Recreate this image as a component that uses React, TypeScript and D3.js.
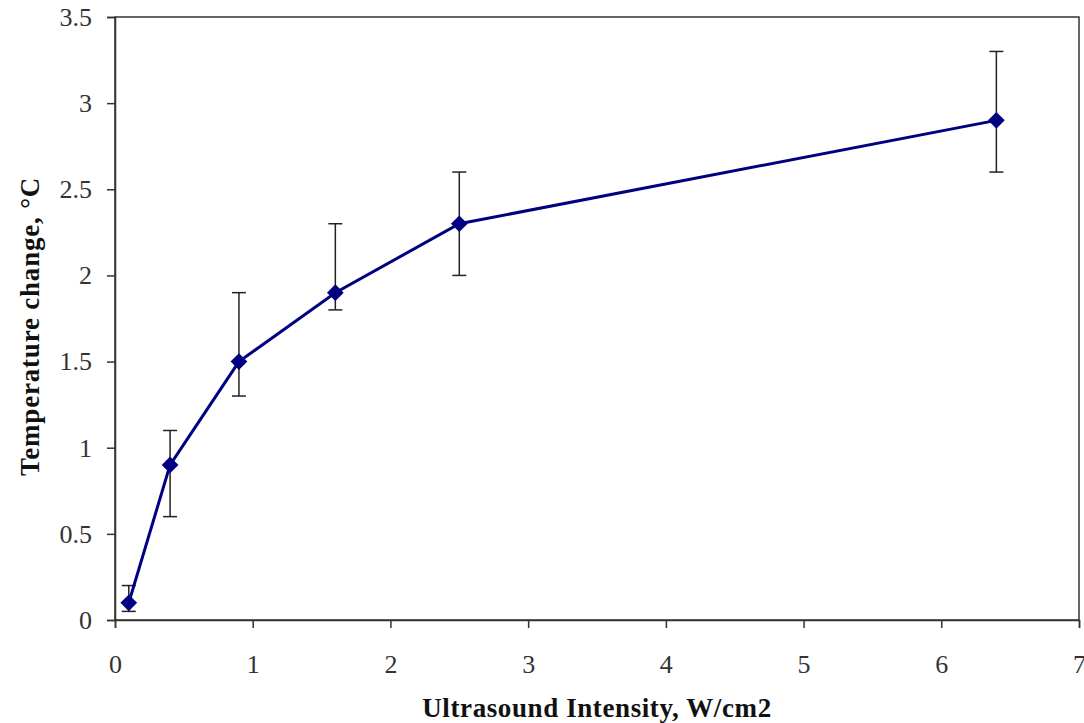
import React, { useEffect, useRef } from 'react';
import * as d3 from 'd3';

const intensity = [0.1, 0.4, 0.9, 1.6, 2.5, 6.4];
const tempChange = [0.1, 0.9, 1.5, 1.9, 2.3, 2.9];
const errUpper = [0.2, 1.1, 1.9, 2.3, 2.6, 3.3];
const errLower = [0.05, 0.6, 1.3, 1.8, 2.0, 2.6];
const xTicks = [0, 1, 2, 3, 4, 5, 6, 7];
const yTicks = [0, 0.5, 1, 1.5, 2, 2.5, 3, 3.5];

const App = () => {
    const svgRef = useRef<SVGSVGElement>(null);

    useEffect(() => {
        const svg = d3.select(svgRef.current);
        svg.selectAll('*').remove();

        const left = 115, right = 1079, top = 17, bottom = 620;
        const x = d3.scaleLinear().domain([0, 7]).range([left, right]);
        const y = d3.scaleLinear().domain([0, 3.5]).range([bottom, top]);

        const data = intensity.map((v, i) => ({
            x: v, y: tempChange[i], hi: errUpper[i], lo: errLower[i]
        }));

        // plot frame
        svg.append('rect')
            .attr('x', left).attr('y', top)
            .attr('width', right - left).attr('height', bottom - top)
            .attr('fill', 'white').attr('stroke', '#333').attr('stroke-width', 1.5);

        // axes
        const xAxis = svg.append('g')
            .attr('transform', `translate(0,${bottom})`)
            .call(d3.axisBottom(x).tickValues(xTicks).tickSize(8).tickPadding(27)
                .tickFormat(d3.format('d')));
        const yAxis = svg.append('g')
            .attr('transform', `translate(${left},0)`)
            .call(d3.axisLeft(y).tickValues(yTicks).tickSize(8).tickPadding(15)
                .tickFormat(d => String(d)));
        [xAxis, yAxis].forEach(g => {
            g.select('.domain').attr('stroke', '#333').attr('stroke-width', 1.5);
            g.selectAll('.tick line').attr('stroke', '#333').attr('stroke-width', 1.5);
            g.selectAll('.tick text')
                .attr('fill', '#333')
                .style('font-family', '"Liberation Serif", serif')
                .style('font-size', '26px');
        });

        // error bars
        const eb = svg.append('g').attr('stroke', '#222').attr('stroke-width', 1.5);
        data.forEach(d => {
            const cx = x(d.x);
            eb.append('line').attr('x1', cx).attr('x2', cx).attr('y1', y(d.hi)).attr('y2', y(d.lo));
            eb.append('line').attr('x1', cx - 7).attr('x2', cx + 7).attr('y1', y(d.hi)).attr('y2', y(d.hi));
            eb.append('line').attr('x1', cx - 7).attr('x2', cx + 7).attr('y1', y(d.lo)).attr('y2', y(d.lo));
        });

        // line
        const line = d3.line<any>().x(d => x(d.x)).y(d => y(d.y));
        svg.append('path')
            .datum(data)
            .attr('d', line)
            .attr('fill', 'none')
            .attr('stroke', '#000080')
            .attr('stroke-width', 3);

        // diamond markers
        svg.selectAll('.marker')
            .data(data)
            .enter()
            .append('path')
            .attr('class', 'marker')
            .attr('d', d3.symbol().type(d3.symbolSquare).size(140))
            .attr('transform', d => `translate(${x(d.x)},${y(d.y)}) rotate(45)`)
            .attr('fill', '#000080');

        // axis titles
        svg.append('text')
            .attr('x', (left + right) / 2)
            .attr('y', 717)
            .attr('text-anchor', 'middle')
            .style('font-family', '"Liberation Serif", serif')
            .style('font-size', '27px')
            .style('font-weight', 'bold')
            .style('letter-spacing', '0.6px')
            .attr('fill', '#111')
            .text('Ultrasound Intensity, W/cm2');

        svg.append('text')
            .attr('transform', `translate(39,${(top + bottom) / 2 + 8}) rotate(-90)`)
            .attr('text-anchor', 'middle')
            .style('font-family', '"Liberation Serif", serif')
            .style('font-size', '27px')
            .style('font-weight', 'bold')
            .style('letter-spacing', '0.8px')
            .attr('fill', '#111')
            .text('Temperature change, °C');
    }, []);

    return (
        <svg ref={svgRef} width={1084} height={723}
            style={{ position: 'absolute', left: 0, top: 0, background: 'white' }} />
    );
};

export default App;
